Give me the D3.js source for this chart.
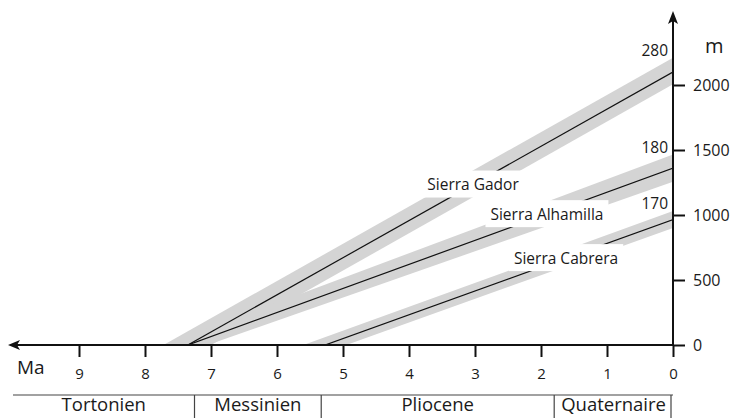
<!DOCTYPE html>
<html>
<head>
<meta charset="utf-8">
<script src="https://cdn.jsdelivr.net/npm/d3@7"></script>
<style>
html,body{margin:0;padding:0;background:#fff;}
svg{display:block;}
text{font-family:"Open Sans","Noto Sans",sans-serif;fill:#1a1a1a;}
</style>
</head>
<body>
<svg id="chart" width="733" height="418"></svg>
<script>
// ---- data ----
const ranges = ["Sierra Gador", "Sierra Alhamilla", "Sierra Cabrera"];
const rates = ["280", "180", "170"];              // uplift rate labels (m/Ma)
const startAge = [7.35, 7.35, 5.27];              // Ma, line meets the axis
const endElev = [2100, 1360, 965];                // m at 0 Ma
const bandUpperStart = [7.72, 7.72, 5.6];         // Ma, upper envelope start
const bandLowerStart = [7.0, 7.05, 4.95];         // Ma, lower envelope start
const bandUpperEnd = [2210, 1465, 1030];          // m at 0 Ma
const bandLowerEnd = [2005, 1255, 900];           // m at 0 Ma
const labelAge = [3.03, 1.91, 1.62];              // Ma where name sits on line
const ageTicks = [9, 8, 7, 6, 5, 4, 3, 2, 1, 0];
const elevTicks = [0, 500, 1000, 1500, 2000];
const stages = ["Tortonien", "Messinien", "Pliocene", "Quaternaire"];
const stageStart = [10, 7.25, 5.33, 1.8];
const stageEnd = [7.25, 5.33, 1.8, 0];

// ---- layout ----
const svg = d3.select("#chart");
const x = d3.scaleLinear().domain([0, 9]).range([673, 79]);
const y = d3.scaleLinear().domain([0, 2000]).range([345, 85]);
const x0 = x(0), y0 = y(0);

svg.append("defs").append("clipPath").attr("id", "plotclip")
  .append("rect").attr("x", 0).attr("y", 0).attr("width", x0).attr("height", y0);

const plot = svg.append("g").attr("clip-path", "url(#plotclip)");
const line = d3.line().x(d => x(d[0])).y(d => y(d[1]));

function extend(t0, e0) { // line from (t0,0) to (0,e0), extended beyond both ends
  const slope = e0 / t0;
  const tA = t0 + 1, tB = -1;
  return [[tA, e0 - slope * tA], [tB, e0 - slope * tB]];
}

// bands
ranges.forEach((r, i) => {
  const up = extend(bandUpperStart[i], bandUpperEnd[i]);
  const lo = extend(bandLowerStart[i], bandLowerEnd[i]);
  const poly = [up[0], up[1], lo[1], lo[0]];
  plot.append("path")
    .attr("d", line(poly) + "Z")
    .attr("fill", "#d4d4d4");
});
// centre lines
ranges.forEach((r, i) => {
  plot.append("path")
    .attr("d", line(extend(startAge[i], endElev[i])))
    .attr("fill", "none")
    .attr("stroke", "#111")
    .attr("stroke-width", 1.2);
});

// range name labels with white backing
ranges.forEach((r, i) => {
  const t = labelAge[i];
  const e = endElev[i] * (startAge[i] - t) / startAge[i];
  const g = svg.append("g").attr("transform", `translate(${x(t)},${y(e)})`);
  const txt = g.append("text")
    .attr("text-anchor", "middle")
    .attr("dy", "0.36em")
    .attr("font-size", 15.5)
    .text(r);
  const w = txt.node().getComputedTextLength();
  g.insert("rect", "text")
    .attr("x", -w / 2 - 5).attr("y", -14)
    .attr("width", w + 10).attr("height", 27)
    .attr("fill", "#fff");
});

// rate labels near right axis
ranges.forEach((r, i) => {
  svg.append("text")
    .attr("x", x0 - 5)
    .attr("y", y(bandUpperEnd[i]) - 2)
    .attr("text-anchor", "end")
    .attr("font-size", 15.5)
    .text(rates[i]);
});

// ---- axes ----
const axisColor = "#111";
svg.append("line").attr("x1", 12).attr("x2", x0).attr("y1", y0).attr("y2", y0)
  .attr("stroke", axisColor).attr("stroke-width", 2);
svg.append("path").attr("d", `M8,${y0} L20,${y0 - 5} L17,${y0} L20,${y0 + 5} Z`).attr("fill", axisColor);
const xAxis = d3.axisBottom(x).tickValues(ageTicks).tickSize(12).tickPadding(11).tickFormat(d3.format("d"));
const gx = svg.append("g").attr("transform", `translate(0,${y0})`).call(xAxis);
gx.select(".domain").remove();
gx.selectAll(".tick line").attr("stroke", axisColor).attr("stroke-width", 2);
gx.selectAll(".tick text").attr("font-size", 15).attr("font-family", "Open Sans").attr("fill", "#1a1a1a");

svg.append("line").attr("x1", x0).attr("x2", x0).attr("y1", 20).attr("y2", y0)
  .attr("stroke", axisColor).attr("stroke-width", 2);
svg.append("path").attr("d", `M${x0},11 L${x0 - 5},24 L${x0},21 L${x0 + 5},24 Z`).attr("fill", axisColor);
const yAxis = d3.axisRight(y).tickValues(elevTicks).tickSize(12).tickPadding(8).tickFormat(d3.format("d"));
const gy = svg.append("g").attr("transform", `translate(${x0},0)`).call(yAxis);
gy.select(".domain").remove();
gy.selectAll(".tick line").attr("stroke", axisColor).attr("stroke-width", 2);
gy.selectAll(".tick text").attr("font-size", 16).attr("font-family", "Open Sans").attr("fill", "#1a1a1a");

svg.append("text").attr("x", 17).attr("y", 374).attr("font-size", 19).text("Ma");
svg.append("text").attr("x", 705).attr("y", 53).attr("font-size", 20).text("m");

// ---- stage table ----
const tableTop = 395;
svg.append("line").attr("x1", x(stageStart[0])).attr("x2", x(0)).attr("y1", tableTop).attr("y2", tableTop)
  .attr("stroke", "#444").attr("stroke-width", 1.2);
stages.forEach((s, i) => {
  if (i > 0) {
    svg.append("line").attr("x1", x(stageStart[i])).attr("x2", x(stageStart[i]))
      .attr("y1", tableTop).attr("y2", 418).attr("stroke", "#444").attr("stroke-width", 1.2);
  }
  svg.append("text")
    .attr("x", (x(stageStart[i]) + x(stageEnd[i])) / 2)
    .attr("y", 411)
    .attr("text-anchor", "middle")
    .attr("font-size", 18.5)
    .text(s);
});
svg.append("line").attr("x1", x(0) - 2).attr("x2", x(0) - 2).attr("y1", tableTop).attr("y2", 418)
  .attr("stroke", "#444").attr("stroke-width", 1.2);
</script>
</body>
</html>
